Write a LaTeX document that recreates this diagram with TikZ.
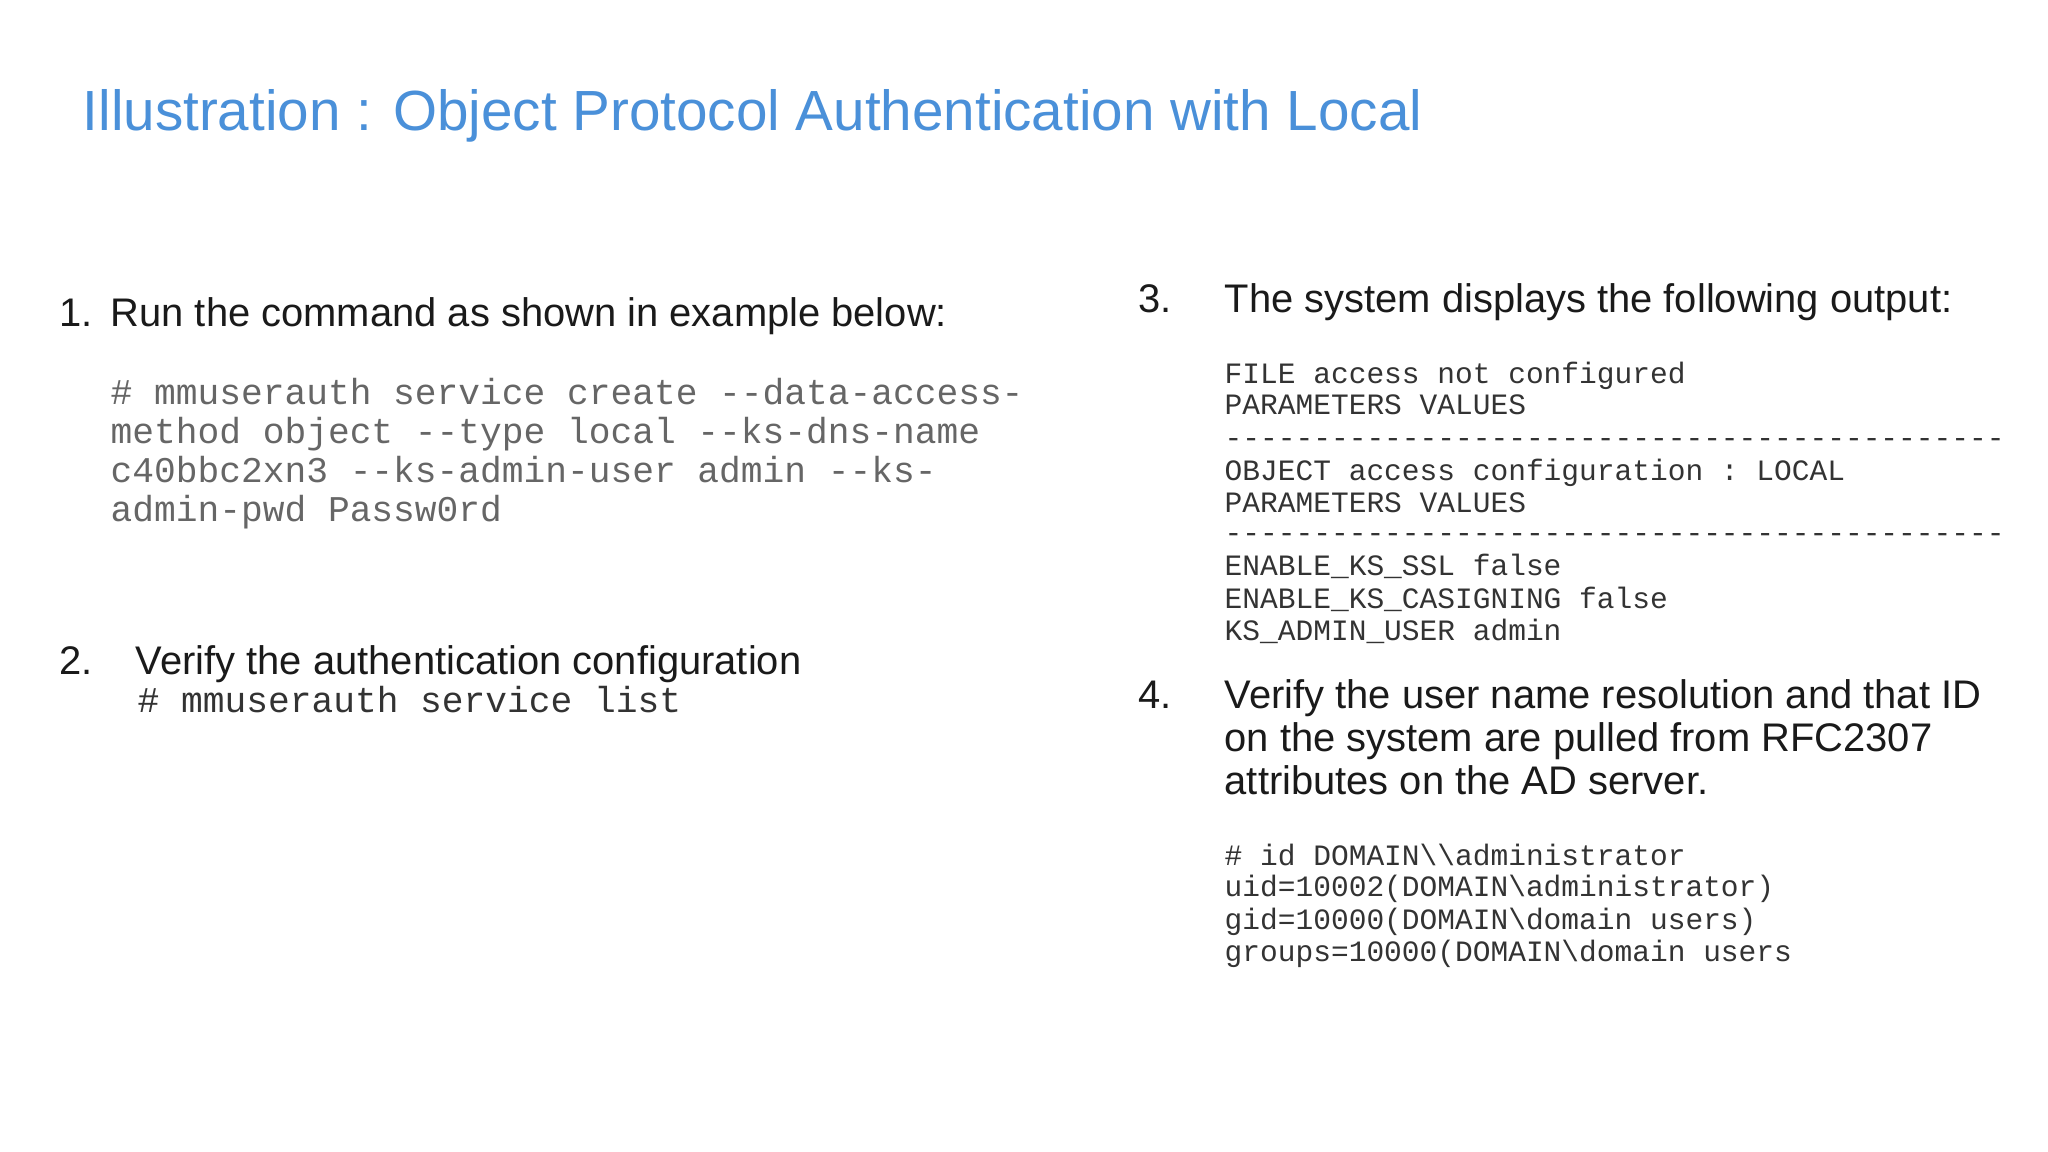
\documentclass[tikz,border=0pt]{standalone}
\usepackage{fontspec}
\setmainfont{Liberation Sans}
\setmonofont{Liberation Mono}
\definecolor{titleblue}{HTML}{4A90D9}
\definecolor{codegrey}{HTML}{666666}
\definecolor{codedark}{HTML}{333333}
\definecolor{bodytext}{HTML}{1A1A1A}
\begin{document}
\begin{tikzpicture}[x=0.01cm,y=-0.01cm,
  txt/.style={anchor=base west,inner sep=0pt,text=bodytext,font=\fontsize{11.35}{13.5}\selectfont},
  lcode/.style={anchor=base west,inner sep=0pt,text=codegrey,font=\ttfamily\fontsize{10.3}{11.1}\selectfont},
  rcode/.style={anchor=base west,inner sep=0pt,text=codedark,font=\ttfamily\fontsize{8.4}{9.1}\selectfont}]
\useasboundingbox[fill=white] (0,0) rectangle (2048,1152);
\node[anchor=base west,inner sep=0pt,text=titleblue,font=\fontsize{16.1}{20}\selectfont] (title) at (82,131) {Illustration : Object Protocol Authentication with Local};
\node[txt] (n1) at (59,327) {1.};
\node[txt] (t1) at (110,327) {Run the command as shown in example below:};
\node[lcode] (c1a) at (110,405) {\# mmuserauth service create --data-access-};
\node[lcode] (c1b) at (110,444) {method object --type local --ks-dns-name};
\node[lcode] (c1c) at (110,483) {c40bbc2xn3 --ks-admin-user admin --ks-};
\node[lcode] (c1d) at (110,522) {admin-pwd Passw0rd};
\node[txt] (n2) at (59,675) {2.};
\node[txt] (t2) at (135,675) {Verify the authentication configuration};
\node[lcode,text=codedark] (c2) at (137,712) {\# mmuserauth service list};
\node[txt] (n3) at (1138,313) {3.};
\node[txt] (t3) at (1224,313) {The system displays the following output:};
\node[rcode] (r1) at (1224,384) {FILE access not configured};
\node[rcode] (r2) at (1224,415) {PARAMETERS VALUES};
\node[rcode] (r3) at (1224,448) {--------------------------------------------};
\node[rcode] (r4) at (1224,481) {OBJECT access configuration : LOCAL};
\node[rcode] (r5) at (1224,512) {PARAMETERS VALUES};
\node[rcode] (r6) at (1224,543) {--------------------------------------------};
\node[rcode] (r7) at (1224,576) {ENABLE\_KS\_SSL false};
\node[rcode] (r8) at (1224,609) {ENABLE\_KS\_CASIGNING false};
\node[rcode] (r9) at (1224,640) {KS\_ADMIN\_USER admin};
\node[txt] (n4) at (1138,708) {4.};
\node[txt] (t4a) at (1224,708) {Verify the user name resolution and that ID};
\node[txt] (t4b) at (1224,751) {on the system are pulled from RFC2307};
\node[txt] (t4c) at (1224,794) {attributes on the AD server.};
\node[rcode] (s1) at (1224,865) {\# id DOMAIN\textbackslash\textbackslash administrator};
\node[rcode] (s2) at (1224,896) {uid=10002(DOMAIN\textbackslash administrator)};
\node[rcode] (s3) at (1224,929) {gid=10000(DOMAIN\textbackslash domain users)};
\node[rcode] (s4) at (1224,961) {groups=10000(DOMAIN\textbackslash domain users};
\end{tikzpicture}
\end{document}
